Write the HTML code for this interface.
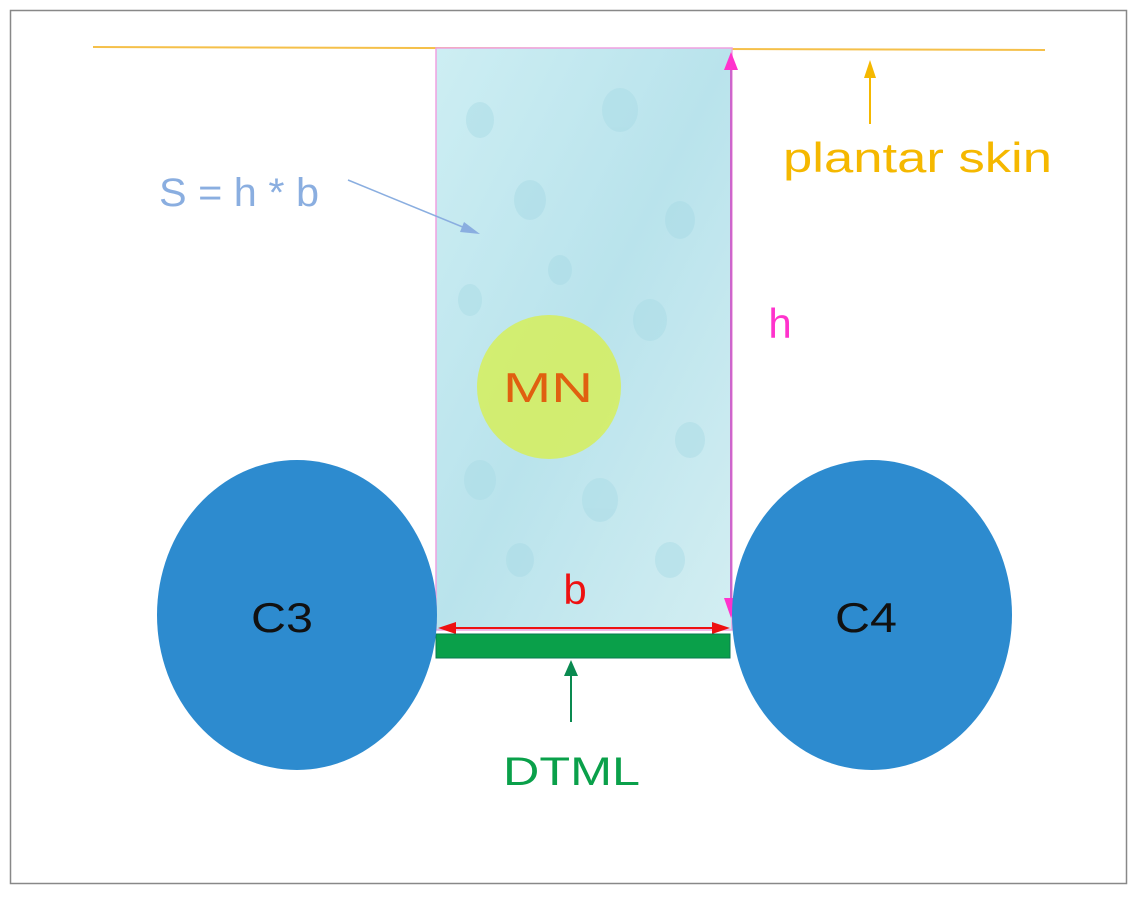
<!DOCTYPE html>
<html><head><style>body{margin:0;background:#fff}</style></head><body>
<svg width="1136" height="894" viewBox="0 0 1136 894" xmlns="http://www.w3.org/2000/svg" font-family="Liberation Sans, sans-serif">
<defs>
<linearGradient id="w" x1="0" y1="0" x2="1" y2="1">
<stop offset="0" stop-color="#cdeef3"/><stop offset="0.5" stop-color="#b9e3ec"/><stop offset="1" stop-color="#d3eef2"/>
</linearGradient>
</defs>
<rect x="10.5" y="10.5" width="1116" height="873" fill="#fff" stroke="#888" stroke-width="1.5"/>
<line x1="93" y1="47" x2="1045" y2="50" stroke="#f5c04a" stroke-width="2"/>
<rect x="436" y="48" width="296" height="582" fill="url(#w)" stroke="#f0a0e0" stroke-width="1.5"/>
<g fill="#a9dbe6" opacity="0.5">
<ellipse cx="480" cy="120" rx="14" ry="18"/><ellipse cx="620" cy="110" rx="18" ry="22"/><ellipse cx="530" cy="200" rx="16" ry="20"/>
<ellipse cx="680" cy="220" rx="15" ry="19"/><ellipse cx="470" cy="300" rx="12" ry="16"/><ellipse cx="650" cy="320" rx="17" ry="21"/>
<ellipse cx="690" cy="440" rx="15" ry="18"/><ellipse cx="480" cy="480" rx="16" ry="20"/><ellipse cx="600" cy="500" rx="18" ry="22"/>
<ellipse cx="520" cy="560" rx="14" ry="17"/><ellipse cx="670" cy="560" rx="15" ry="18"/><ellipse cx="560" cy="270" rx="12" ry="15"/>
</g>
<line x1="731" y1="615" x2="731" y2="60" stroke="#cc66cc" stroke-width="2"/>
<path d="M724,70 L731,52 L738,70z" fill="#ff33cc"/>
<path d="M724,598 L731,618 L738,598z" fill="#ff33cc"/>
<line x1="450" y1="628" x2="718" y2="628" stroke="#ee1111" stroke-width="2"/>
<path d="M456,622 L438,628 L456,634z" fill="#ee1111"/>
<path d="M712,622 L730,628 L712,634z" fill="#ee1111"/>
<rect x="436" y="634" width="294" height="24" fill="#0aa04a" stroke="#0a7a50" stroke-width="1"/>
<ellipse cx="297" cy="615" rx="140" ry="155" fill="#2d8bcf"/>
<ellipse cx="872" cy="615" rx="140" ry="155" fill="#2d8bcf"/>
<circle cx="549" cy="387" r="72" fill="#d6ee5a" opacity="0.85"/>
<text x="503" y="402" font-size="42" fill="#e06010" textLength="90" lengthAdjust="spacingAndGlyphs">MN</text>
<text x="251" y="632" font-size="42" fill="#111" textLength="62" lengthAdjust="spacingAndGlyphs">C3</text>
<text x="835" y="632" font-size="42" fill="#111" textLength="62" lengthAdjust="spacingAndGlyphs">C4</text>
<text x="575" y="604" font-size="42" fill="#ee1111" text-anchor="middle">b</text>
<text x="780" y="338" font-size="42" fill="#ff33cc" text-anchor="middle">h</text>
<text x="503" y="785" font-size="40" fill="#0aa04a" textLength="137" lengthAdjust="spacingAndGlyphs">DTML</text>
<line x1="571" y1="722" x2="571" y2="672" stroke="#0a8a50" stroke-width="2"/>
<path d="M564,676 L571,660 L578,676z" fill="#0a8a50"/>
<text x="783" y="172" font-size="42" fill="#f5b800" textLength="269" lengthAdjust="spacingAndGlyphs">plantar skin</text>
<line x1="870" y1="124" x2="870" y2="72" stroke="#f5b800" stroke-width="2"/>
<path d="M864,78 L870,60 L876,78z" fill="#f5b800"/>
<text x="159" y="206" font-size="40" fill="#8aaee0" textLength="160" lengthAdjust="spacingAndGlyphs">S = h * b</text>
<line x1="348" y1="180" x2="470" y2="230" stroke="#8aaee0" stroke-width="1.5"/>
<path d="M464,222 L480,234 L460,232z" fill="#8aaee0"/>
</svg>
</body></html>
